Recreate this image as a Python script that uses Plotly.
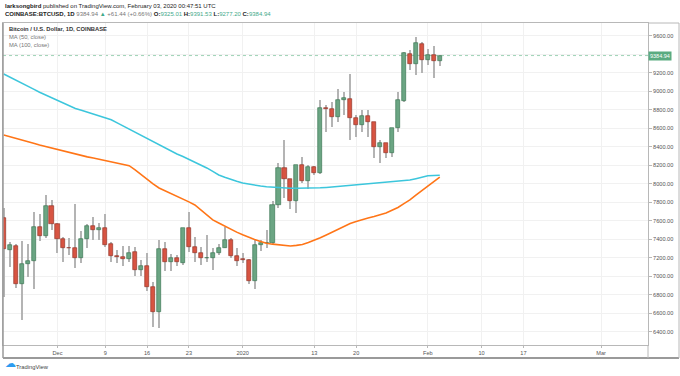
import plotly.graph_objects as go
import pandas as pd

# ---------------- data ----------------
start_date = "2019-11-22"
n_days = 74

opens = [7626, 7283, 7330, 6912, 7129, 7167, 7529, 7435, 7762, 7561,
         7405, 7308, 7300, 7200, 7399, 7546, 7503, 7525, 7345, 7222,
         7204, 7186, 7258, 7067, 7110, 6880, 6616, 7291, 7150, 7193,
         7146, 7518, 7319, 7254, 7193, 7200, 7250, 7305, 7392, 7218,
         7182, 7175, 6948, 7337, 7355, 7360, 7770, 8166, 8047, 7816,
         8202, 8032, 8184, 8112, 8822, 8808, 8718, 8905, 8916, 8707,
         8635, 8732, 8670, 8394, 8437, 8335, 8605, 8894, 9399, 9291,
         9510, 9337, 9390, 9325.01]
highs = [7737, 7373, 7345, 7380, 7345, 7691, 7669, 7878, 7824, 7570,
         7427, 7413, 7780, 7492, 7564, 7643, 7580, 7669, 7373, 7285,
         7330, 7330, 7312, 7180, 7250, 6940, 7391, 7370, 7240, 7230,
         7525, 7697, 7427, 7319, 7445, 7310, 7345, 7535, 7410, 7300,
         7254, 7190, 7392, 7390, 7495, 7816, 8220, 8472, 8050, 8202,
         8292, 8202, 8195, 8905, 8850, 8880, 9020, 8995, 9190, 8743,
         8797, 8797, 8670, 8470, 8437, 8605, 8995, 9427, 9445, 9590,
         9530, 9460, 9489, 9391.53]
lows = [6778, 7103, 6869, 6526, 6995, 6858, 7380, 7410, 7500, 7247,
        7157, 7229, 7089, 7140, 7302, 7391, 7390, 7319, 7150, 7143,
        7110, 7150, 7005, 7005, 6845, 6454, 6437, 7060, 7060, 7110,
        7120, 7265, 7157, 7121, 7157, 7063, 7225, 7300, 7193, 7110,
        7146, 6920, 6858, 7270, 7310, 7350, 7734, 7842, 7730, 7680,
        8004, 7940, 8090, 8105, 8556, 8615, 8670, 8743, 8472, 8508,
        8560, 8505, 8280, 8220, 8280, 8290, 8562, 8886, 9229, 9175,
        9200, 9280, 9146, 9277.20]
closes = [7291, 7337, 6912, 7129, 7167, 7529, 7435, 7762, 7561, 7405,
          7308, 7300, 7200, 7399, 7546, 7500, 7525, 7337, 7218, 7204,
          7186, 7254, 7067, 7110, 6880, 6616, 7291, 7150, 7193, 7150,
          7518, 7319, 7254, 7193, 7200, 7250, 7305, 7392, 7218, 7168,
          7172, 6948, 7337, 7355, 7360, 7770, 8166, 8047, 7816, 8202,
          8032, 8184, 8112, 8822, 8808, 8724, 8905, 8930, 8707, 8635,
          8732, 8664, 8400, 8437, 8335, 8605, 8905, 9410, 9291, 9518,
          9337, 9390, 9325.01, 9384.94]

ma50 = [8526, 8510, 8494, 8478, 8458, 8438, 8418, 8402, 8386, 8370,
        8352, 8334, 8316, 8303, 8290, 8277, 8264, 8251, 8238, 8225,
        8213, 8195, 8150, 8097, 8043, 7998, 7954, 7925, 7896, 7867,
        7835, 7803, 7770, 7716, 7662, 7608, 7574, 7540, 7505, 7476,
        7447, 7418, 7397, 7376, 7356, 7346, 7337, 7331, 7326, 7333,
        7343, 7363, 7386, 7415, 7445, 7478, 7510, 7540, 7570, 7592,
        7613, 7629, 7645, 7664, 7683, 7713, 7743, 7784, 7824, 7875,
        7926, 7972, 8018, 8072]
ma100 = [9186, 9155, 9122, 9089, 9055, 9022, 8988, 8958, 8929, 8900,
         8871, 8842, 8813, 8793, 8773, 8754, 8734, 8712, 8691, 8658,
         8624, 8590, 8556, 8522, 8489, 8452, 8415, 8384, 8352, 8321,
         8294, 8265, 8235, 8203, 8170, 8132, 8094, 8070, 8045, 8026,
         8008, 7994, 7981, 7974, 7967, 7961, 7957, 7953, 7950, 7950,
         7950, 7950, 7950, 7955, 7960, 7966, 7972, 7976, 7981, 7986,
         7991, 7997, 8002, 8008, 8013, 8019, 8026, 8033, 8040, 8054,
         8070, 8085, 8089, 8091]

tick_dates = ["2019-12-01", "2019-12-09", "2019-12-16", "2019-12-23", "2020-01-01",
              "2020-01-13", "2020-01-20", "2020-02-01", "2020-02-10", "2020-02-17",
              "2020-03-01"]
tick_text = ["Dec", "9", "16", "23", "2020", "13", "20", "Feb", "10", "17", "Mar"]
price_ticks = [6400, 6600, 6800, 7000, 7200, 7400, 7600, 7800, 8000,
               8200, 8400, 8600, 8800, 9000, 9200, 9400, 9600]
hidden_tick = 9400   # covered by the last-price label in the reference

# ---------------- figure ----------------
dates = pd.date_range(start_date, periods=n_days, freq="D")
DAY_MS = 86400000

UP_FILL, UP_LINE = "#6ba583", "#2f6b48"
DN_FILL, DN_LINE = "#d75442", "#8a2a1f"
WICK = "#b4b4b4"
GRID = "#f1f1f1"
FRAME = "#b8b8b8"
TXT = "#555555"
FONT = "Liberation Sans"

up = [c >= o for o, c in zip(opens, closes)]
body_base = [min(o, c) for o, c in zip(opens, closes)]
body_h = [max(abs(c - o), 3) for o, c in zip(opens, closes)]

fig = go.Figure()

# wicks
fig.add_trace(go.Bar(
    x=dates, base=lows, y=[h - l for h, l in zip(highs, lows)],
    width=0.17 * DAY_MS, marker=dict(color=WICK, line=dict(width=0)),
    hoverinfo="skip", showlegend=False))

# bodies
fig.add_trace(go.Bar(
    x=dates, base=body_base, y=body_h, width=0.68 * DAY_MS,
    marker=dict(color=[UP_FILL if u else DN_FILL for u in up],
                line=dict(color=[UP_LINE if u else DN_LINE for u in up], width=0.6)),
    hoverinfo="skip", showlegend=False))

# moving averages
fig.add_trace(go.Scatter(x=dates, y=ma100, mode="lines",
                         line=dict(color="#3cc6dc", width=1.5), showlegend=False))
fig.add_trace(go.Scatter(x=dates, y=ma50, mode="lines",
                         line=dict(color="#ff7517", width=1.6), showlegend=False))

last = closes[-1]

# price line
fig.add_shape(type="line", xref="paper", x0=0, x1=1, yref="y", y0=last, y1=last,
              line=dict(color="#9ed3b6", width=1, dash="dot"), layer="below")

# frame extras (time axis box and right price-axis box)
yb = -13 / 322.0
xr = 676 / 645.0
for (x0, y0, x1, y1, w, col) in [
    (0, yb, xr, yb, 2, "#9a9a9a"),
    (xr, yb, xr, 1, 1, FRAME),
    (1, 1, xr, 1, 1, FRAME),
    (1, 0, 1, yb, 1, FRAME),
    (0, 0, 0, yb, 1.5, "#9a9a9a"),
    (0, 0, 0, 1, 1.5, "#9a9a9a"),
]:
    fig.add_shape(type="line", xref="paper", yref="paper", x0=x0, y0=y0, x1=x1, y1=y1,
                  line=dict(color=col, width=w))

ann = []
ann.append(dict(xref="paper", yref="y", x=1, y=last, xanchor="left", yanchor="middle",
                text=f"{last:.2f}", showarrow=False, bgcolor="#5aab80",
                font=dict(family=FONT, size=5.5, color="white"), borderpad=1, xshift=0))

green = "#3fa98a"
hdr1 = "<b>larksongbird</b> published on TradingView.com, February 03, 2020 00:47:51 UTC"
hdr2 = (f"<b>COINBASE:BTCUSD, 1D</b> <span style='color:#777'>{closes[-1]:.2f}</span> "
        f"<span style='color:{green}'>▲</span> <span style='color:#777'>+61.44 (+0.66%)</span> "
        f"<b>O:</b><span style='color:{green}'>{opens[-1]:.2f}</span> "
        f"<b>H:</b><span style='color:{green}'>{highs[-1]:.2f}</span> "
        f"<b>L:</b><span style='color:{green}'>{lows[-1]:.2f}</span> "
        f"<b>C:</b><span style='color:{green}'>{closes[-1]:.2f}</span>")
for txt, yp in [(hdr1, (345 - 6) / 322), (hdr2, (345 - 14.5) / 322)]:
    ann.append(dict(xref="paper", yref="paper", x=0, y=yp, xanchor="left", yanchor="middle",
                    text=txt, showarrow=False, xshift=0,
                    font=dict(family=FONT, size=6.0, color="#222")))

for txt, yp, col in [("<b>Bitcoin / U.S. Dollar, 1D, COINBASE</b>", (345 - 29) / 322, "#333"),
                     ("MA (50, close)", (345 - 37) / 322, "#777"),
                     ("MA (100, close)", (345 - 44.5) / 322, "#777")]:
    ann.append(dict(xref="paper", yref="paper", x=0, y=yp, xanchor="left", yanchor="middle",
                    text=txt, showarrow=False, xshift=4,
                    font=dict(family=FONT, size=5.8, color=col)))

ann.append(dict(xref="paper", yref="paper", x=0, y=(345 - 366) / 322, xanchor="left",
                yanchor="middle", text="☁", showarrow=False, xshift=0, yshift=3,
                font=dict(family="DejaVu Sans", size=11, color="#2d9cf0")))
ann.append(dict(xref="paper", yref="paper", x=0, y=(345 - 366.5) / 322, xanchor="left",
                yanchor="middle", text="TradingView", showarrow=False, xshift=11,
                font=dict(family=FONT, size=5.8, color="#444")))

fig.update_layout(
    width=680, height=376,
    margin=dict(l=3, r=32, t=23, b=31),
    paper_bgcolor="white", plot_bgcolor="white",
    barmode="overlay", bargap=0,
    showlegend=False,
    annotations=ann,
    xaxis=dict(type="date", range=["2019-11-21 21:07", "2020-03-08 20:38"],
               tickvals=tick_dates, ticktext=tick_text,
               showgrid=True, gridcolor=GRID, gridwidth=1,
               showline=True, linecolor=FRAME, linewidth=1, mirror=True,
               ticks="outside", ticklen=2, tickcolor=FRAME,
               tickfont=dict(family=FONT, size=5.6, color=TXT),
               zeroline=False, fixedrange=True),
    yaxis=dict(side="right", range=[6256, 9737],
               tickvals=price_ticks,
               ticktext=["" if v == hidden_tick else f"{v:.2f}" for v in price_ticks],
               showgrid=True, gridcolor=GRID, gridwidth=1,
               showline=True, linecolor=FRAME, linewidth=1, mirror=True,
               ticks="outside", ticklen=3, tickcolor=FRAME,
               tickfont=dict(family=FONT, size=5.6, color=TXT),
               zeroline=False, fixedrange=True),
)

fig.write_html("out.html", config={"displayModeBar": False},
               post_script="document.body.style.margin='0';document.body.style.overflow='hidden';")
